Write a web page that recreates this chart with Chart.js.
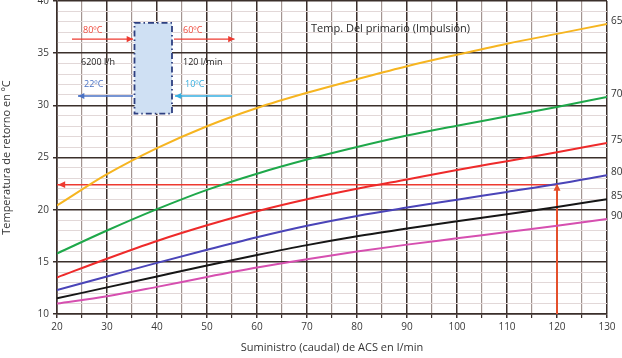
<!DOCTYPE html>
<html>
<head>
<meta charset="utf-8">
<script src="https://cdn.jsdelivr.net/npm/chart.js@4/dist/chart.umd.min.js"></script>
<style>
html,body{margin:0;padding:0;background:#fff;}
#wrap{width:622px;height:358px;position:relative;}
</style>
</head>
<body>
<div id="wrap"><canvas id="c" width="622" height="358"></canvas></div>
<script>
const flows = [20,30,40,50,60,70,80,90,100,110,120,130];
const primaryTemps = ['65','70','75','80','85','90'];
const t65 = [20.4,23.4,25.9,28.0,29.75,31.2,32.5,33.75,34.85,35.9,36.85,37.8];
const t70 = [15.8,18.0,20.05,21.9,23.45,24.8,26.0,27.1,28.05,28.95,29.85,30.8];
const t75 = [13.5,15.3,17.0,18.5,19.85,21.0,22.0,22.9,23.8,24.65,25.5,26.4];
const t80 = [12.3,13.6,14.9,16.15,17.35,18.45,19.4,20.2,20.95,21.7,22.45,23.3];
const t85 = [11.5,12.55,13.6,14.65,15.65,16.6,17.45,18.2,18.9,19.55,20.25,21.0];
const t90 = [11.0,11.7,12.6,13.55,14.45,15.25,15.98,16.65,17.25,17.85,18.45,19.1];
const seriesColors = ['#f6b520','#1ea84a','#ee2a2a','#4a44b8','#161616','#d64fb0'];
const readFlow = 120;
const readTemp = 22.4;
const xTicks = [20,30,40,50,60,70,80,90,100,110,120,130];
const yTicks = [10,15,20,25,30,35,40];

const series = [t65,t70,t75,t80,t85,t90];
const datasets = series.map((arr,i)=>({
  label: primaryTemps[i],
  data: flows.map((f,j)=>({x:f,y:arr[j]})),
  borderColor: seriesColors[i],
  borderWidth: 2,
  pointRadius: 0,
  cubicInterpolationMode: 'monotone',
  fill: false
}));
datasets.push({
  label:'vert', data:[{x:readFlow,y:10},{x:readFlow,y:readTemp}],
  borderColor:'#e4502c', borderWidth:2, pointRadius:0, tension:0
});
datasets.push({
  label:'horiz', data:[{x:readFlow,y:readTemp},{x:20,y:readTemp}],
  borderColor:'#ee3a30', borderWidth:1.5, pointRadius:0, tension:0
});

function arrowHead(ctx, x1,y1,x2,y2,color,size){
  const a = Math.atan2(y2-y1,x2-x1);
  ctx.save();
  ctx.fillStyle=color;
  ctx.beginPath();
  ctx.moveTo(x2,y2);
  ctx.lineTo(x2-size*Math.cos(a-0.45), y2-size*Math.sin(a-0.45));
  ctx.lineTo(x2-size*Math.cos(a+0.45), y2-size*Math.sin(a+0.45));
  ctx.closePath();
  ctx.fill();
  ctx.restore();
}

const overlay = {
  id:'overlay',
  afterDatasetsDraw(chart){
    const ctx = chart.ctx, xs = chart.scales.x, ys = chart.scales.y;
    const X = v=>xs.getPixelForValue(v), Y = v=>ys.getPixelForValue(v);
    arrowHead(ctx, X(readFlow), Y(12), X(readFlow), Y(readTemp)-1, '#e4502c', 8);
    arrowHead(ctx, X(40), Y(readTemp), X(20)+1, Y(readTemp), '#ee3a30', 8);
    ctx.save();
    ctx.font = '10px "Open Sans", sans-serif';
    ctx.fillStyle = '#333';
    ctx.textAlign='left'; ctx.textBaseline='middle';
    series.forEach((arr,i)=>{
      ctx.fillText(primaryTemps[i], chart.chartArea.right+4, Y(arr[arr.length-1]+0.25));
    });
    ctx.restore();
    ctx.save();
    ctx.font = '11px "Open Sans", sans-serif';
    ctx.fillStyle = '#2a2a2a';
    ctx.textAlign='left'; ctx.textBaseline='middle';
    ctx.fillText('Temp. Del primario (Impulsión)', X(70.8), Y(37.35));
    ctx.restore();
    const bx1=X(35.5), bx2=X(43), by1=Y(37.9), by2=Y(29.2);
    ctx.save();
    ctx.fillStyle='#cfe0f3';
    ctx.fillRect(bx1,by1,bx2-bx1,by2-by1);
    ctx.strokeStyle='#2d3f80'; ctx.lineWidth=1.8;
    ctx.setLineDash([6,3,1.5,3]);
    ctx.strokeRect(bx1,by1,bx2-bx1,by2-by1);
    ctx.restore();
    function arr(xa,xb,yv,color){
      ctx.save(); ctx.strokeStyle=color; ctx.lineWidth=1.4;
      ctx.beginPath(); ctx.moveTo(X(xa),Y(yv)); ctx.lineTo(X(xb),Y(yv)); ctx.stroke();
      ctx.restore();
      arrowHead(ctx, X(xa),Y(yv), X(xb),Y(yv), color, 7);
    }
    arr(23,35.2,36.35,'#ee3a30');
    arr(43.4,55.5,36.35,'#ee3a30');
    arr(35.2,24.2,30.9,'#4a72c4');
    arr(55,43.6,30.9,'#35aee0');
    ctx.save();
    ctx.font = '9px "Open Sans", sans-serif';
    ctx.textAlign='left'; ctx.textBaseline='middle';
    ctx.fillStyle='#ee4a3c'; ctx.fillText('80ºC', X(25.2), Y(37.2)); ctx.fillText('60ºC', X(45.2), Y(37.2));
    ctx.fillStyle='#222'; ctx.fillText('6200 l/h', X(24.8), Y(34.1)); ctx.fillText('120 l/min', X(45.2), Y(34.1));
    ctx.fillStyle='#4a72c4'; ctx.fillText('22ºC', X(25.4), Y(32.05));
    ctx.fillStyle='#35aee0'; ctx.fillText('10ºC', X(45.6), Y(32.05));
    ctx.restore();
  }
};

new Chart(document.getElementById('c'), {
  type:'line',
  data:{datasets},
  plugins:[overlay],
  options:{
    responsive:false, animation:false,
    layout:{padding:{top:1,right:15,bottom:0,left:0}},
    plugins:{legend:{display:false}, tooltip:{enabled:false}},
    scales:{
      x:{
        type:'linear', min:20, max:130,
        afterFit(s){ s.height=44; },
        afterBuildTicks(s){ s.ticks=[]; for(let v=20; v<=130; v+=5) s.ticks.push({value:v}); },
        ticks:{ stepSize:5, autoSkip:false, maxRotation:0, padding:3,
          callback:v=> xTicks.includes(v)? String(v):'',
          font:{family:'"Open Sans", sans-serif', size:10}, color:'#3a3a3a' },
        grid:{
          color:c=> (c.tick && c.tick.value%10===0)? '#3a2f2b':'#a39591',
          lineWidth:c=> (c.tick && c.tick.value%10===0)? 1.5:1.2,
          tickLength:4, tickColor:'#3a2f2b'
        },
        border:{color:'#3a2f2b', width:1.5},
        title:{display:true, text:'Suministro (caudal) de ACS en l/min',
          font:{family:'"Open Sans", sans-serif', size:11}, color:'#333', padding:{top:2,bottom:4}}
      },
      y:{
        type:'linear', min:10, max:40,
        afterFit(s){ s.width=57; s.paddingTop=0; s.paddingBottom=0; },
        afterBuildTicks(s){ s.ticks=[]; for(let v=10; v<=40; v+=1) s.ticks.push({value:v}); },
        ticks:{ stepSize:1, autoSkip:false, padding:4,
          callback:v=> yTicks.includes(v)? String(v):'',
          font:{family:'"Open Sans", sans-serif', size:10}, color:'#3a3a3a' },
        grid:{
          color:c=> (c.tick && c.tick.value%5===0)? '#3a2f2b':'#e2d8d8',
          lineWidth:c=> (c.tick && c.tick.value%5===0)? 1.5:1,
          tickLength:4, tickColor:c=> (c.tick && c.tick.value%5===0)? '#3a2f2b':'rgba(0,0,0,0)'
        },
        border:{color:'#3a2f2b', width:1.5},
        title:{display:true, text:'Temperatura de retorno en ºC',
          font:{family:'"Open Sans", sans-serif', size:11}, color:'#333', padding:{top:0,bottom:4}}
      }
    }
  }
});
</script>
</body>
</html>
